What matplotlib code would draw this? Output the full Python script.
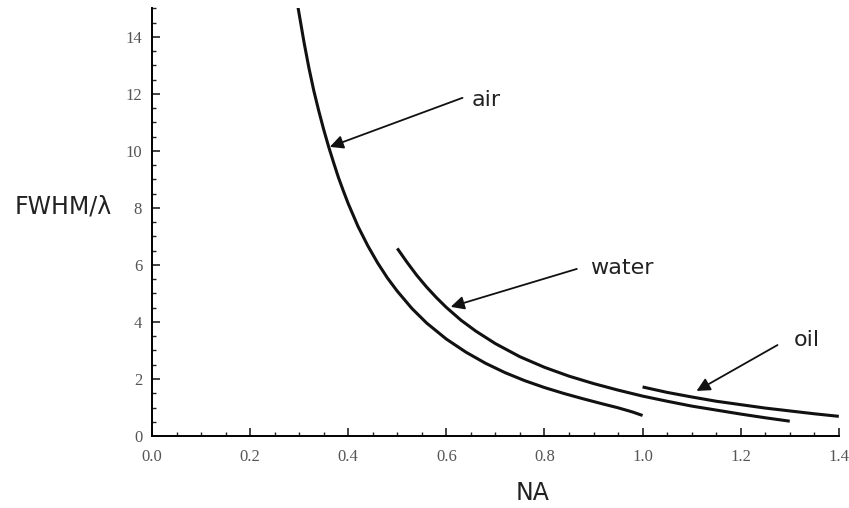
import matplotlib
matplotlib.use("Agg")
import matplotlib.pyplot as plt
from matplotlib.ticker import MultipleLocator

# valeurs (FWHM/lambda en fonction de NA)
na_air = [0.29, 0.30, 0.31, 0.32, 0.33, 0.34, 0.35, 0.36, 0.37, 0.38, 0.39,
          0.40, 0.42, 0.44, 0.46, 0.48, 0.50, 0.53, 0.56, 0.60, 0.64, 0.68,
          0.72, 0.76, 0.80, 0.84, 0.88, 0.92, 0.95, 0.98, 1.00]
fwhm_air = [15.8, 14.8, 13.8, 12.9, 12.1, 11.4, 10.75, 10.15, 9.6, 9.07, 8.6,
            8.15, 7.35, 6.67, 6.07, 5.54, 5.08, 4.47, 3.96, 3.40, 2.94, 2.55,
            2.22, 1.94, 1.70, 1.49, 1.30, 1.12, 0.99, 0.84, 0.72]

na_water = [0.50, 0.52, 0.54, 0.56, 0.58, 0.60, 0.63, 0.66, 0.70, 0.75, 0.80,
            0.85, 0.90, 0.95, 1.00, 1.05, 1.10, 1.15, 1.20, 1.25, 1.30]
fwhm_water = [6.58, 6.09, 5.63, 5.22, 4.85, 4.51, 4.06, 3.68, 3.24, 2.78, 2.41,
              2.10, 1.84, 1.61, 1.40, 1.22, 1.05, 0.91, 0.77, 0.64, 0.52]

na_oil = [1.00, 1.05, 1.10, 1.15, 1.20, 1.25, 1.30, 1.35, 1.40]
fwhm_oil = [1.72, 1.53, 1.37, 1.22, 1.10, 0.98, 0.88, 0.78, 0.69]

labels = ["air", "water", "oil"]
label_pos = [(0.682, 11.79), (0.957, 5.89), (1.334, 3.37)]
arrow_tail = [(0.633, 11.86), (0.866, 5.86), (1.275, 3.19)]
arrow_tip = [(0.3625, 10.14), (0.609, 4.53), (1.110, 1.58)]

fig = plt.figure(figsize=(8.49, 5.08), dpi=100)
ax = fig.add_axes([0.179, 0.1417, 0.809, 0.842])

for x, y in [(na_air, fwhm_air), (na_water, fwhm_water), (na_oil, fwhm_oil)]:
    ax.plot(x, y, color="#111111", lw=2.2, solid_capstyle="butt",
            solid_joinstyle="round")

ax.set_xlim(0, 1.4)
ax.set_ylim(0, 15)

for s in ["top", "right"]:
    ax.spines[s].set_visible(False)
for s in ["left", "bottom"]:
    ax.spines[s].set_linewidth(1.4)

ax.xaxis.set_major_locator(MultipleLocator(0.2))
ax.xaxis.set_minor_locator(MultipleLocator(0.05))
ax.yaxis.set_major_locator(MultipleLocator(2))
ax.yaxis.set_minor_locator(MultipleLocator(0.5))
ax.tick_params(which="major", direction="in", length=6, width=1.2, colors="#222222")
ax.tick_params(which="minor", direction="in", length=3, width=1.0, colors="#222222")
ax.tick_params(axis="x", which="major", pad=9)
ax.tick_params(axis="y", which="major", pad=7)
ax.set_xticklabels([f"{v:.1f}" for v in ax.get_xticks()])
for lab in ax.get_xticklabels() + ax.get_yticklabels():
    lab.set_fontfamily("Liberation Serif")
    lab.set_fontsize(12)
    lab.set_color("#555555")

ax.set_xlabel("NA", fontsize=17, family="DejaVu Sans", color="#222222")
ax.xaxis.set_label_coords((533 - 152) / 687, (436 - 493) / 428)
ax.set_ylabel("FWHM/λ", fontsize=17, family="DejaVu Sans", color="#222222", rotation=0)
ax.yaxis.set_label_coords((63 - 152) / 687, (436 - 206) / 428)
ax.xaxis.label.set_va("center")
ax.yaxis.label.set_va("center")
ax.yaxis.label.set_ha("center")

for txt, pos, tail, tip in zip(labels, label_pos, arrow_tail, arrow_tip):
    ax.text(pos[0], pos[1], txt, fontsize=16, family="DejaVu Sans",
            color="#222222", ha="center", va="center")
    ax.annotate("", xy=tip, xytext=tail,
                arrowprops=dict(arrowstyle="-|>", color="#111111", lw=1.3,
                                mutation_scale=20, shrinkA=0, shrinkB=0))

fig.savefig("out.png", dpi=100)
